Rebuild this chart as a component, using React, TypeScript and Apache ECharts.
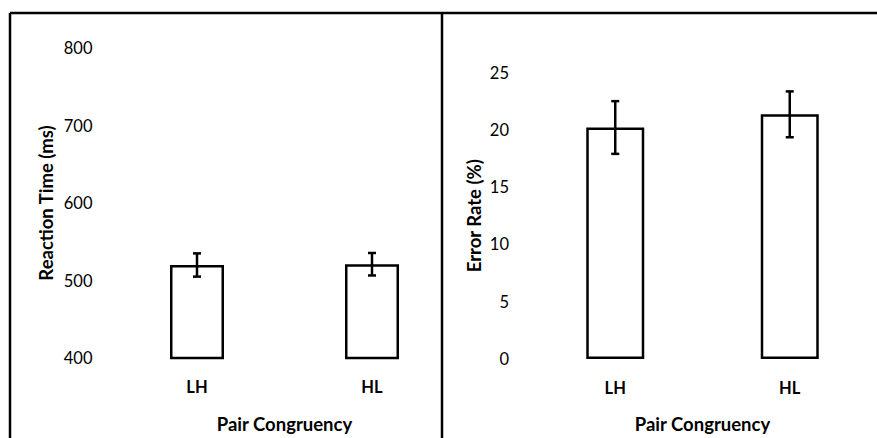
import React, { useEffect, useRef } from "react";
import * as echarts from "echarts";

const categories = ["LH", "HL"];
const rtMeans = [520, 521];
const rtErrors = [15, 14.5];
const erMeans = [20.2, 21.35];
const erErrors = [2.3, 2.0];

const FONT = "Lato";

function errorSeries(xIdx: number, means: number[], errs: number[]) {
  return {
    type: "custom",
    xAxisIndex: xIdx,
    yAxisIndex: xIdx,
    clip: false,
    z: 10,
    data: means.map((m, i) => [i, m + errs[i], m - errs[i]]),
    renderItem: (params: any, api: any) => {
      const hi = api.coord([api.value(0), api.value(1)]);
      const lo = api.coord([api.value(0), api.value(2)]);
      const cap = 4;
      const style = { stroke: "#000", lineWidth: 2.5 };
      return {
        type: "group",
        children: [
          { type: "line", shape: { x1: hi[0], y1: hi[1], x2: lo[0], y2: lo[1] }, style },
          { type: "line", shape: { x1: hi[0] - cap, y1: hi[1], x2: hi[0] + cap, y2: hi[1] }, style },
          { type: "line", shape: { x1: lo[0] - cap, y1: lo[1], x2: lo[0] + cap, y2: lo[1] }, style },
        ],
      };
    },
  };
}

export default function App() {
  const ref = useRef<HTMLDivElement>(null);
  useEffect(() => {
    const chart = echarts.init(ref.current!, null, { renderer: "svg" });
    const axisLabel = { fontFamily: FONT, fontSize: 16.5, color: "#000" };
    const nameStyle = { fontFamily: FONT, fontSize: 18.5, fontWeight: "bold" as const, color: "#000" };
    chart.setOption({
      animation: false,
      textStyle: { fontFamily: FONT },
      grid: [
        { left: 109.5, top: 48, width: 350, height: 310 },
        { left: 528, top: 72.5, width: 382.6, height: 287.5 },
      ],
      xAxis: [
        {
          gridIndex: 0,
          type: "category",
          data: categories,
          axisLine: { show: false },
          axisTick: { show: false },
          axisLabel: { ...axisLabel, fontWeight: "bold", margin: 20 },
          name: "Pair Congruency",
          nameLocation: "middle",
          nameGap: 56,
          nameTextStyle: nameStyle,
        },
        {
          gridIndex: 1,
          type: "category",
          data: categories,
          axisLine: { show: false },
          axisTick: { show: false },
          axisLabel: { ...axisLabel, fontWeight: "bold", margin: 20 },
          name: "Pair Congruency",
          nameLocation: "middle",
          nameGap: 55,
          nameTextStyle: nameStyle,
        },
      ],
      yAxis: [
        {
          gridIndex: 0,
          type: "value",
          min: 400,
          max: 800,
          interval: 100,
          axisLine: { show: false },
          axisTick: { show: false },
          splitLine: { show: false },
          axisLabel: { ...axisLabel, margin: 17 },
          name: "Reaction Time (ms)",
          nameLocation: "middle",
          nameRotate: 90,
          nameGap: 54,
          nameTextStyle: nameStyle,
        },
        {
          gridIndex: 1,
          type: "value",
          min: 0,
          max: 25,
          interval: 5,
          axisLine: { show: false },
          axisTick: { show: false },
          splitLine: { show: false },
          axisLabel: { ...axisLabel, margin: 19 },
          name: "Error Rate (%)",
          nameLocation: "middle",
          nameRotate: 90,
          nameGap: 45,
          nameTextStyle: nameStyle,
        },
      ],
      graphic: [
        { type: "line", shape: { x1: 10, y1: 13, x2: 877, y2: 13 }, style: { stroke: "#000", lineWidth: 2.5 } },
        { type: "line", shape: { x1: 10, y1: 13, x2: 10, y2: 438 }, style: { stroke: "#000", lineWidth: 2.5 } },
        { type: "line", shape: { x1: 442, y1: 13, x2: 442, y2: 438 }, style: { stroke: "#000", lineWidth: 2.5 } },
      ],
      series: [
        {
          type: "bar",
          xAxisIndex: 0,
          yAxisIndex: 0,
          data: rtMeans,
          barWidth: 54,
          clip: true,
          itemStyle: { color: "#fff", borderColor: "#000", borderWidth: 2.5 },
        },
        {
          type: "bar",
          xAxisIndex: 1,
          yAxisIndex: 1,
          data: erMeans,
          barWidth: 58,
          itemStyle: { color: "#fff", borderColor: "#000", borderWidth: 2.5 },
        },
        errorSeries(0, rtMeans, rtErrors),
        errorSeries(1, erMeans, erErrors),
      ],
    });
    return () => chart.dispose();
  }, []);
  return <div ref={ref} style={{ width: 877, height: 438, position: "absolute", left: 0, top: 0 }} />;
}
